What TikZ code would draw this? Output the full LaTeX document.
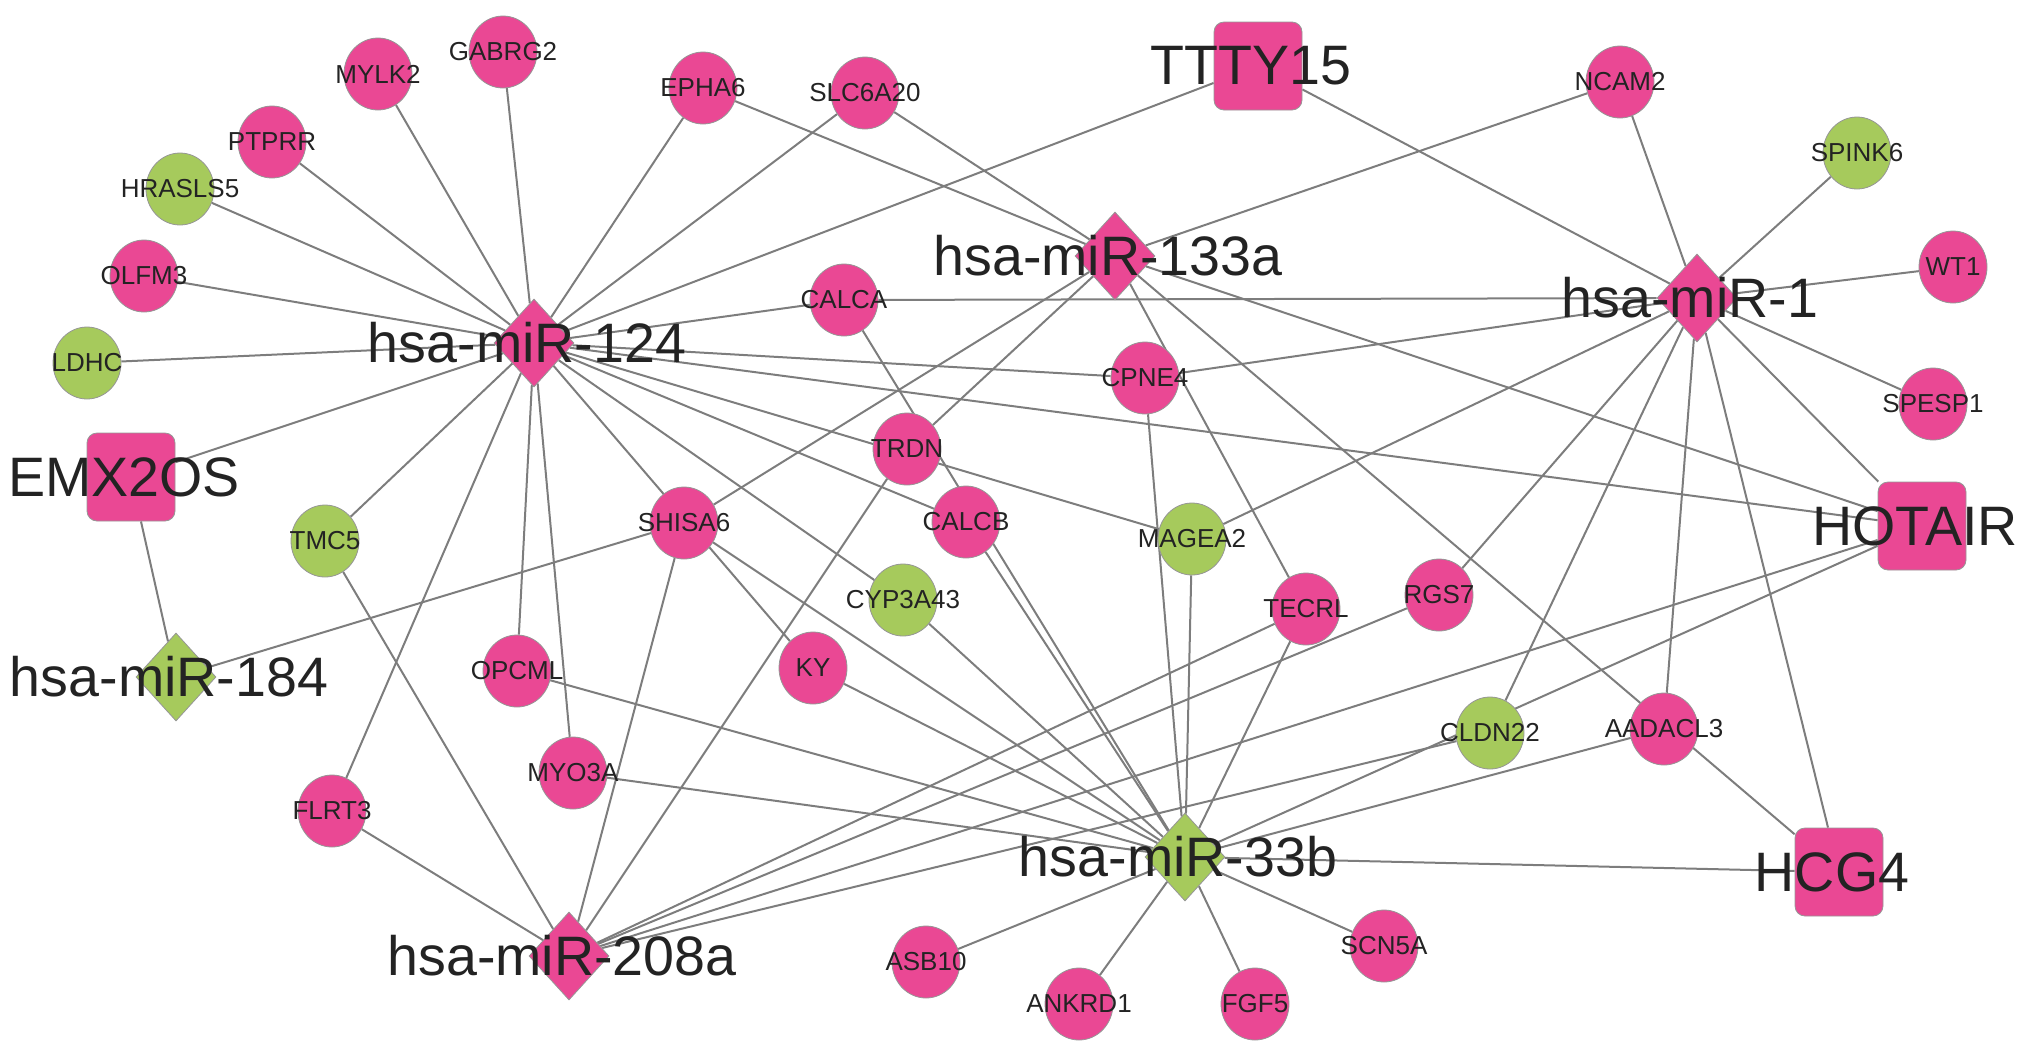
\documentclass[tikz,border=0pt]{standalone}
\usepackage{fontspec}
\setmainfont{Liberation Sans}
\usetikzlibrary{shapes.geometric,backgrounds}

\definecolor{nodepink}{RGB}{234,72,148}
\definecolor{nodegreen}{RGB}{166,202,92}
\definecolor{edgegray}{RGB}{125,125,125}
\definecolor{rimgray}{RGB}{150,150,150}
\definecolor{labeltext}{RGB}{35,35,35}

\begin{document}
\begin{tikzpicture}[
        x=0.5pt, y=-0.5pt,
        smalltext/.style={font=\fontsize{13}{15}\selectfont, text=labeltext, inner sep=0pt},
        bigtext/.style={font=\fontsize{27.8}{31}\selectfont, text=labeltext, inner sep=0pt, xshift=-3.5pt},
        gene/.style={ellipse, draw=rimgray, line width=0.4pt, minimum width=34pt, minimum height=36pt, inner sep=0pt, label={[smalltext]center:#1}},
        mirna/.style={diamond, draw=rimgray, line width=0.4pt, minimum width=40pt, minimum height=44pt, inner sep=0pt, label={[bigtext]center:#1}},
        lnc/.style={rectangle, rounded corners=5pt, draw=rimgray, line width=0.4pt, minimum size=44pt, inner sep=0pt, label={[bigtext]center:#1}},
        upreg/.style={fill=nodepink},
        downreg/.style={fill=nodegreen},
        link/.style={draw=edgegray, line width=1pt}
    ]
        \useasboundingbox (0,0) rectangle (2031,1056);

        % miRNAs
        \node[mirna=hsa-miR-124, upreg] (mir124) at (534,343) {};
        \node[mirna=hsa-miR-133a, upreg] (mir133a) at (1115,256) {};
        \node[mirna=hsa-miR-1, upreg] (mir1) at (1697,298) {};
        \node[mirna=hsa-miR-184, downreg] (mir184) at (176,677) {};
        \node[mirna=hsa-miR-33b, downreg] (mir33b) at (1185,857) {};
        \node[mirna=hsa-miR-208a, upreg] (mir208a) at (569,956) {};

        % lncRNAs
        \node[lnc=TTTY15, upreg] (ttty15) at (1258,66) {};
        \node[lnc=EMX2OS, upreg] (emx2os) at (131,477) {};
        \node[lnc=HOTAIR, upreg] (hotair) at (1922,526) {};
        \node[lnc=HCG4, upreg] (hcg4) at (1839,872) {};

        % mRNAs
        \node[gene=MYLK2, upreg] (mylk2) at (378,74) {};
        \node[gene=GABRG2, upreg] (gabrg2) at (503,52) {};
        \node[gene=PTPRR, upreg] (ptprr) at (272,142) {};
        \node[gene=HRASLS5, downreg] (hrasls5) at (180,189) {};
        \node[gene=OLFM3, upreg] (olfm3) at (144,276) {};
        \node[gene=LDHC, downreg] (ldhc) at (87,363) {};
        \node[gene=EPHA6, upreg] (epha6) at (703,88) {};
        \node[gene=SLC6A20, upreg] (slc6a20) at (865,93) {};
        \node[gene=NCAM2, upreg] (ncam2) at (1620,82) {};
        \node[gene=SPINK6, downreg] (spink6) at (1857,153) {};
        \node[gene=WT1, upreg] (wt1) at (1953,267) {};
        \node[gene=SPESP1, upreg] (spesp1) at (1933,404) {};
        \node[gene=CALCA, upreg] (calca) at (844,300) {};
        \node[gene=CPNE4, upreg] (cpne4) at (1145,378) {};
        \node[gene=TRDN, upreg] (trdn) at (907,449) {};
        \node[gene=SHISA6, upreg] (shisa6) at (684,523) {};
        \node[gene=CALCB, upreg] (calcb) at (966,522) {};
        \node[gene=TMC5, downreg] (tmc5) at (325,541) {};
        \node[gene=MAGEA2, downreg] (magea2) at (1192,539) {};
        \node[gene=CYP3A43, downreg] (cyp3a43) at (903,600) {};
        \node[gene=TECRL, upreg] (tecrl) at (1306,609) {};
        \node[gene=RGS7, upreg] (rgs7) at (1439,595) {};
        \node[gene=OPCML, upreg] (opcml) at (517,671) {};
        \node[gene=KY, upreg] (ky) at (813,668) {};
        \node[gene=CLDN22, downreg] (cldn22) at (1490,733) {};
        \node[gene=AADACL3, upreg] (aadacl3) at (1664,729) {};
        \node[gene=MYO3A, upreg] (myo3a) at (573,773) {};
        \node[gene=FLRT3, upreg] (flrt3) at (332,811) {};
        \node[gene=ASB10, upreg] (asb10) at (926,962) {};
        \node[gene=SCN5A, upreg] (scn5a) at (1384,946) {};
        \node[gene=ANKRD1, upreg] (ankrd1) at (1079,1004) {};
        \node[gene=FGF5, upreg] (fgf5) at (1255,1004) {};

        % interactions
        \begin{scope}[on background layer, every edge/.style={link}]
            \path (mir124) edge (gabrg2) edge (mylk2) edge (ptprr) edge (hrasls5)
                edge (olfm3) edge (ldhc) edge (emx2os) edge (tmc5) edge (flrt3)
                edge (opcml) edge (myo3a) edge (ky) edge (cyp3a43) edge (calcb)
                edge (magea2) edge (hotair) edge (cpne4) edge (calca) edge (ttty15)
                edge (slc6a20) edge (epha6);
            \path (mir133a) edge (epha6) edge (slc6a20) edge (ncam2) edge (hotair)
                edge (hcg4) edge (tecrl) edge (trdn) edge (shisa6);
            \path (mir1) edge (ttty15) edge (ncam2) edge (spink6) edge (wt1)
                edge (spesp1) edge (hotair) edge (hcg4) edge (aadacl3) edge (cldn22)
                edge (rgs7) edge (magea2) edge (cpne4) edge (calca);
            \path (mir184) edge (emx2os) edge (shisa6);
            \path (mir208a) edge (flrt3) edge (tmc5) edge (shisa6) edge (trdn)
                edge (tecrl) edge (rgs7) edge (hotair) edge (cldn22);
            \path (mir33b) edge (asb10) edge (ankrd1) edge (fgf5) edge (scn5a)
                edge (hcg4) edge (aadacl3) edge (hotair) edge (tecrl) edge (magea2)
                edge (cpne4) edge (calcb) edge (calca) edge (cyp3a43) edge (ky)
                edge (shisa6) edge (opcml) edge (myo3a);
        \end{scope}
    \end{tikzpicture}
\end{document}
